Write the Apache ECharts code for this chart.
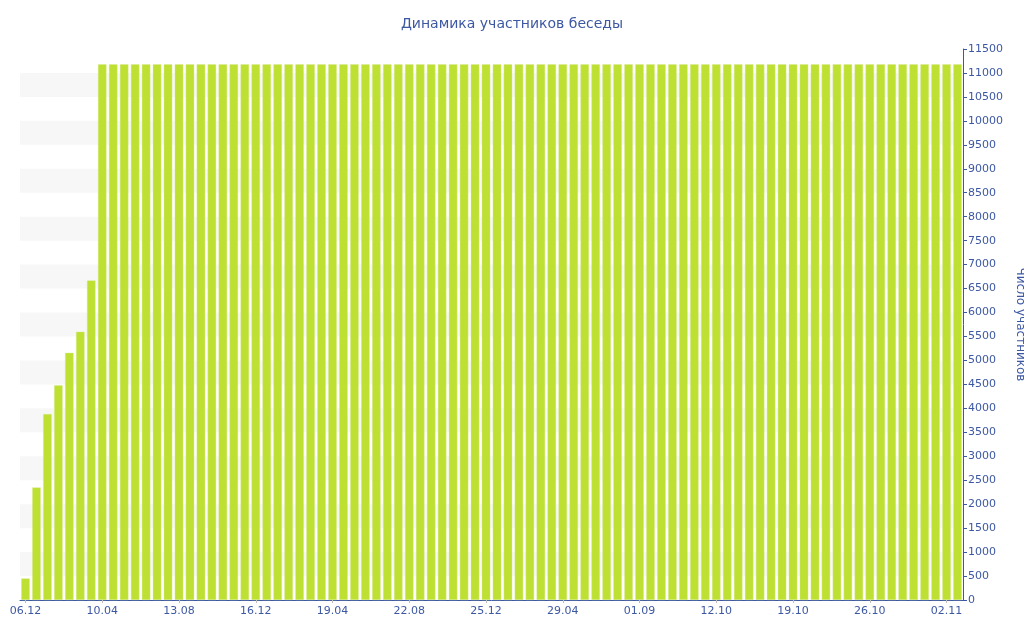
<!DOCTYPE html>
<html><head><meta charset="utf-8">
<script src="https://cdn.jsdelivr.net/npm/echarts@6/dist/echarts.min.js"></script>
<style>html,body{margin:0;padding:0;background:#fff}#c{width:1024px;height:640px}</style>
</head><body><div id="c"></div>
<script>
const categories = [
 '06.12','24.12','11.01','29.01','16.02','06.03','23.03',
 '10.04','28.04','16.05','03.06','21.06','09.07','26.07',
 '13.08','31.08','18.09','06.10','24.10','11.11','28.11',
 '16.12','03.01','21.01','08.02','26.02','16.03','02.04',
 '19.04','07.05','25.05','12.06','30.06','18.07','04.08',
 '22.08','09.09','27.09','15.10','02.11','20.11','07.12',
 '25.12','12.01','30.01','17.02','07.03','25.03','11.04',
 '29.04','17.05','04.06','22.06','10.07','28.07','14.08',
 '01.09','07.09','13.09','19.09','25.09','01.10','06.10',
 '12.10','13.10','14.10','15.10','16.10','17.10','18.10',
 '19.10','20.10','21.10','22.10','23.10','24.10','25.10',
 '26.10','27.10','28.10','29.10','30.10','31.10','01.11',
 '02.11','03.11'
];
const members = [
 450, 2350, 3880, 4480, 5160, 5600, 6670,
 11180, 11180, 11180, 11180, 11180, 11180, 11180,
 11180, 11180, 11180, 11180, 11180, 11180, 11180,
 11180, 11180, 11180, 11180, 11180, 11180, 11180,
 11180, 11180, 11180, 11180, 11180, 11180, 11180,
 11180, 11180, 11180, 11180, 11180, 11180, 11180,
 11180, 11180, 11180, 11180, 11180, 11180, 11180,
 11180, 11180, 11180, 11180, 11180, 11180, 11180,
 11180, 11180, 11180, 11180, 11180, 11180, 11180,
 11180, 11180, 11180, 11180, 11180, 11180, 11180,
 11180, 11180, 11180, 11180, 11180, 11180, 11180,
 11180, 11180, 11180, 11180, 11180, 11180, 11180,
 11180, 11180
];
const titleText = 'Динамика участников беседы';
const yName = 'Число участников';

const textColor = '#3d58a3';
const chart = echarts.init(document.getElementById('c'), null, {renderer:'canvas'});
chart.setOption({
  animation:false,
  textStyle:{fontFamily:'DejaVu Sans'},
  title:{text:titleText, left:'center', top:12,
    textStyle:{fontFamily:'DejaVu Sans', fontSize:14, fontWeight:'normal', color:textColor}},
  grid:{left:20, right:61, top:49, bottom:40, containLabel:false, outerBoundsMode:'none'},
  xAxis:{type:'category', data:categories, boundaryGap:true,
    axisLine:{lineStyle:{color:'#3d58a3', width:1}},
    axisTick:{show:true, alignWithLabel:true, interval:6, length:3, lineStyle:{color:'#bbb'}},
    axisLabel:{interval:6, color:textColor, fontSize:11, margin:6, fontFamily:'DejaVu Sans'},
    splitLine:{show:false}},
  yAxis:{type:'value', position:'right', min:0, max:11500, interval:500,
    name:yName, nameLocation:'middle', nameRotate:-90, nameGap:48,
    nameTextStyle:{color:textColor, fontSize:12, fontFamily:'DejaVu Sans'},
    axisLine:{show:true, lineStyle:{color:'#3d58a3'}},
    axisTick:{show:true, length:4, lineStyle:{color:'#3d58a3'}},
    axisLabel:{color:textColor, fontSize:11, margin:5, fontFamily:'DejaVu Sans',
      formatter:function(v){return String(v);}},
    splitLine:{show:false},
    splitArea:{show:true, areaStyle:{color:['rgba(255,255,255,0)','#f7f7f7']}}},
  series:[{type:'bar', data:members, barCategoryGap:'22%',
    itemStyle:{color:'#bde033', borderColor:'rgba(215,235,140,0.8)', borderWidth:0.5}}]
});
</script></body></html>
